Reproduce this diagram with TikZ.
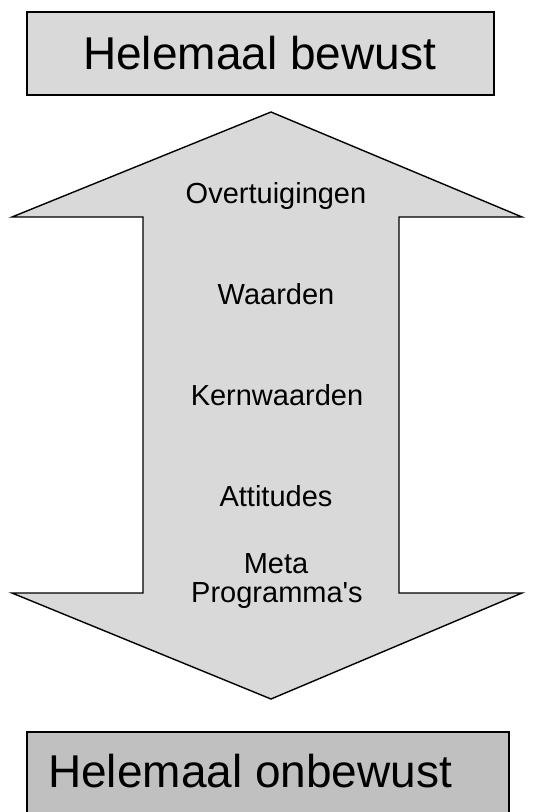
\documentclass[tikz,border=0pt]{standalone}
\usepackage{fontspec}
\setmainfont{Liberation Sans}
\definecolor{boxA}{HTML}{D9D9D9}
\definecolor{boxB}{HTML}{C0C0C0}
\tikzset{
  titlebox/.style={draw=black, line width=1.8pt},
  bigtxt/.style={font=\fontsize{46}{50}\selectfont, inner sep=0pt},
  lbl/.style={font=\fontsize{29}{29}\selectfont, inner sep=0pt, anchor=base},
  bigarrow/.style={draw=black, fill=boxA, line width=1.4pt, line join=miter}
}
\begin{document}
\begin{tikzpicture}[x=1pt,y=-1pt]
\useasboundingbox (0,0) rectangle (534,812);
\clip (0,0) rectangle (534,812);
% top box
\path[titlebox, fill=boxA] (27,12) rectangle (494,95);
\node[bigtxt, anchor=base west] (top) at (83,69) {Helemaal bewust};
% double arrow
\path[bigarrow] (271,112) -- (522,217) -- (399,217) -- (399,593) -- (522,593)
  -- (271,699) -- (12,593) -- (143,593) -- (143,217) -- (12,217) -- cycle;
\node[lbl] (l1) at (276,203) {Overtuigingen};
\node[lbl] (l2) at (276,304) {Waarden};
\node[lbl] (l3) at (277,405) {Kernwaarden};
\node[lbl] (l4) at (276,506) {Attitudes};
\node[lbl] (l5) at (276,573) {Meta};
\node[lbl] (l6) at (277,602) {Programma\textquotesingle s};
% bottom box
\path[titlebox, fill=boxB] (27,732) rectangle (509,840);
\node[bigtxt, anchor=base west] (bot) at (48,787) {Helemaal onbewust};
\end{tikzpicture}
\end{document}
